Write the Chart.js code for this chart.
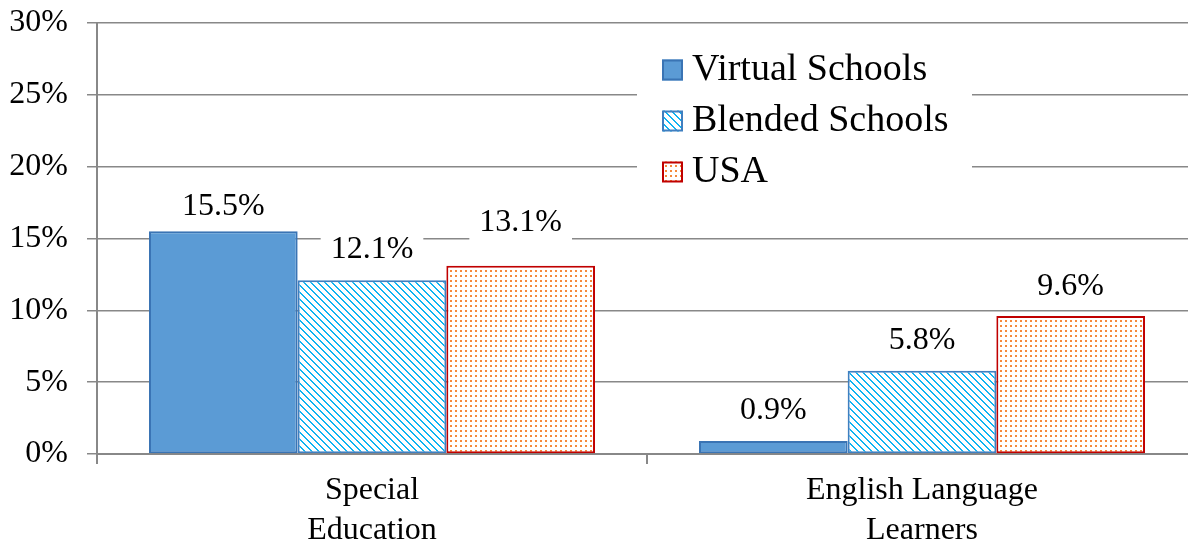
<!DOCTYPE html>
<html><head><meta charset="utf-8">
<script src="https://cdn.jsdelivr.net/npm/chart.js@4/dist/chart.umd.min.js"></script>
<style>html,body{margin:0;padding:0;background:#fff;overflow:hidden;width:1188px;height:544px}canvas{display:block}</style>
</head><body><canvas id="c" width="1200" height="544"></canvas>
<script>
const categories = [['Special', 'Education'], ['English Language', 'Learners']];
const seriesNames = ['Virtual Schools', 'Blended Schools', 'USA'];
const virtualSchools = [15.5, 0.9];
const blendedSchools = [12.1, 5.8];
const usa = [13.1, 9.6];
const yTickStep = 5;
const yMax = 30;

function makePattern(size, fg, test) {
  const c = document.createElement('canvas');
  c.width = size; c.height = size;
  const g = c.getContext('2d');
  g.fillStyle = '#fff'; g.fillRect(0, 0, size, size);
  g.fillStyle = fg;
  for (let y = 0; y < size; y++) for (let x = 0; x < size; x++) if (test(x, y)) g.fillRect(x, y, 1, 1);
  return document.getElementById('c').getContext('2d').createPattern(c, 'repeat');
}
const stripePattern = makePattern(7, '#10B4F2', (x, y) => (((x - y) % 7) + 7) % 7 < 2);
const dotPattern = makePattern(5, '#F58A3C', (x, y) => x < 2 && y < 2);

const FONT = '"Liberation Serif", "Times New Roman", serif';

const labelPlugin = {
  id: 'barLabels',
  afterDatasetsDraw(chart, args, opts) {
    const ctx = chart.ctx;
    ctx.save();
    ctx.font = '32px ' + FONT;
    ctx.textAlign = 'center';
    ctx.textBaseline = 'middle';
    chart.data.datasets.forEach((ds, di) => {
      chart.getDatasetMeta(di).data.forEach((bar, i) => {
        const text = ds.data[i].toFixed(1) + '%';
        const y = bar.y - opts.offsets[di][i];
        const w = ctx.measureText(text).width;
        ctx.fillStyle = '#fff';
        ctx.fillRect(bar.x - w / 2 - 10, y - 18, w + 20, 36);
        ctx.fillStyle = '#000';
        ctx.fillText(text, bar.x, y);
      });
    });
    ctx.restore();
  }
};

const legendPlugin = {
  id: 'boxLegend',
  afterDatasetsDraw(chart, args, opts) {
    const ctx = chart.ctx;
    ctx.save();
    ctx.fillStyle = '#fff';
    ctx.fillRect(opts.left, opts.top, opts.right - opts.left, opts.bottom - opts.top);
    ctx.font = '38px ' + FONT;
    ctx.textBaseline = 'middle';
    ctx.textAlign = 'left';
    chart.data.datasets.forEach((ds, i) => {
      const cy = opts.firstRow + i * opts.rowGap;
      const s = opts.box;
      ctx.fillStyle = ds.backgroundColor;
      ctx.fillRect(opts.boxX, cy - s / 2, s, s);
      ctx.strokeStyle = ds.borderColor;
      ctx.lineWidth = 2;
      ctx.strokeRect(opts.boxX + 1, cy - s / 2 + 1, s - 2, s - 2);
      ctx.fillStyle = '#000';
      ctx.fillText(ds.label, opts.textX, cy);
    });
    ctx.restore();
  }
};

new Chart(document.getElementById('c'), {
  type: 'bar',
  data: {
    labels: categories,
    datasets: [
      { label: seriesNames[0], data: virtualSchools, backgroundColor: '#5B9BD5', borderColor: '#3A74B4', borderWidth: 2, borderSkipped: false },
      { label: seriesNames[1], data: blendedSchools, backgroundColor: stripePattern, borderColor: '#3F7FC0', borderWidth: 2, borderSkipped: false },
      { label: seriesNames[2], data: usa, backgroundColor: dotPattern, borderColor: '#C00000', borderWidth: 2, borderSkipped: false }
    ]
  },
  options: {
    responsive: false,
    animation: false,
    devicePixelRatio: 1,
    layout: { padding: { top: 23, right: 3, left: 0, bottom: 0 } },
    datasets: { bar: { barPercentage: 1, categoryPercentage: 0.811 } },
    plugins: {
      legend: { display: false },
      tooltip: { enabled: false },
      barLabels: { offsets: [[25, 30], [31, 30], [43.5, 29]] },
      boxLegend: { left: 637, right: 972, top: 40, bottom: 200, boxX: 662, box: 21, textX: 692, firstRow: 70, rowGap: 51 }
    },
    scales: {
      x: {
        offset: true,
        grid: { display: true, drawOnChartArea: false, drawTicks: true, tickLength: 10, offset: true, color: '#888', lineWidth: 2 },
        border: { display: true, color: '#888', width: 2 },
        ticks: { color: '#000', font: { family: FONT, size: 32, lineHeight: 1.25 }, padding: 7, maxRotation: 0, autoSkip: false },
        afterFit(s) { s.height = 90; s.paddingLeft = 0; s.paddingRight = 0; }
      },
      y: {
        min: 0, max: yMax,
        grid: { color: '#888', lineWidth: 1.5, drawTicks: true, tickLength: 10 },
        border: { display: true, color: '#888', width: 2 },
        ticks: { stepSize: yTickStep, color: '#000', font: { family: FONT, size: 32 }, padding: 19, callback: v => v + '%' },
        afterFit(s) { s.width = 97; s.paddingTop = 0; s.paddingBottom = 0; }
      }
    }
  },
  plugins: [labelPlugin, legendPlugin]
});
</script>
</body></html>
